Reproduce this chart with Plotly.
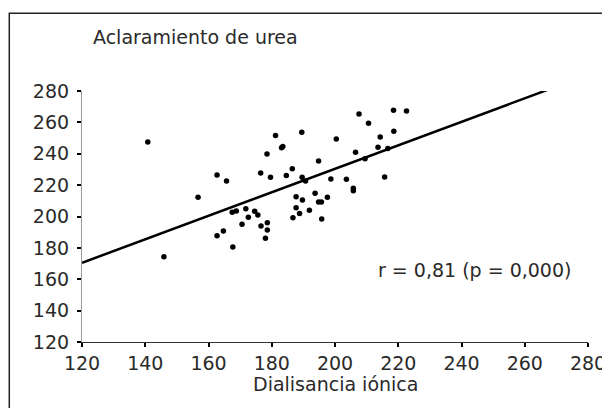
import plotly.graph_objects as go

# Data
dialisancia = [140.8, 145.9, 156.7, 162.7, 165.7, 162.7, 164.7, 167.5, 168.8, 167.7,
               171.8, 174.6, 175.6, 172.6, 170.6, 176.6, 178.6, 178.6, 178.0, 176.5,
               179.6, 178.5, 181.2, 183.1, 183.5, 184.6, 186.5, 189.5, 189.6, 190.7,
               194.8, 198.7, 200.4, 203.6, 205.8, 205.8, 187.7, 189.7, 193.7, 194.8,
               195.7, 197.6, 187.7, 191.9, 188.8, 186.7, 195.8, 206.5, 209.5, 207.6,
               210.6, 213.6, 216.7, 214.3, 218.6, 218.5, 222.6, 215.7]
aclaramiento = [247.5, 174.4, 212.2, 226.4, 222.6, 187.8, 190.7, 202.7, 203.5, 180.5,
                205.0, 203.3, 200.9, 199.5, 195.0, 193.9, 196.0, 191.4, 186.1, 227.7,
                225.0, 239.8, 251.7, 243.8, 244.7, 226.2, 230.5, 253.7, 225.0, 222.6,
                235.4, 223.9, 249.4, 223.7, 218.0, 216.4, 212.6, 210.5, 214.8, 209.2,
                209.2, 212.2, 205.6, 204.0, 201.9, 199.2, 198.4, 240.9, 236.8, 265.3,
                259.4, 244.1, 243.4, 250.7, 254.3, 267.7, 267.2, 225.2]

fit_intercept = 80.6
fit_slope = 0.749
fit_x = [120, 267.6]
fit_y = [fit_intercept + fit_slope * v for v in fit_x]

tick_vals = [120, 140, 160, 180, 200, 220, 240, 260, 280]

FONT = "DejaVu Sans"
FS = 19
TXT = "#2a2a2a"

fig = go.Figure()
fig.add_trace(go.Scatter(x=dialisancia, y=aclaramiento, mode="markers",
                         marker=dict(color="black", size=5.5, symbol="circle"),
                         hoverinfo="x+y", showlegend=False))
fig.add_trace(go.Scatter(x=fit_x, y=fit_y, mode="lines",
                         line=dict(color="black", width=2.5),
                         showlegend=False, hoverinfo="skip"))

axis_common = dict(range=[120, 280], tickvals=tick_vals, showgrid=False, zeroline=False,
                   showline=True, ticks="outside", ticklen=4, tickwidth=2, tickcolor="black",
                   ticklabeloverflow="allow",
                   tickfont=dict(family=FONT, size=FS, color=TXT))

fig.update_xaxes(**axis_common, linecolor="#333", linewidth=1.2)
fig.update_yaxes(**axis_common, linecolor="#999", linewidth=1.2, ticklabelstandoff=4)

fig.update_layout(
    width=610, height=408,
    margin=dict(l=74, r=21, t=83, b=74),
    plot_bgcolor="white", paper_bgcolor="white",
    font=dict(family=FONT, color=TXT),
    shapes=[dict(type="rect", xref="paper", yref="paper",
                 x0=-0.1437, x1=1.3, y0=1.31, y1=-0.6,
                 line=dict(color="#222", width=1.5), fillcolor="rgba(0,0,0,0)", layer="below")],
    annotations=[
        dict(text="Aclaramiento de urea", xref="paper", yref="paper", x=0.0175, y=1.215,
             xanchor="left", yanchor="middle", showarrow=False,
             font=dict(family=FONT, size=FS, color=TXT)),
        dict(text="Dialisancia iónica", xref="paper", yref="paper", x=0.5, y=-0.167,
             xanchor="center", yanchor="middle", showarrow=False,
             font=dict(family=FONT, size=FS, color=TXT)),
        dict(text="r = 0,81 (p = 0,000)", xref="x", yref="y", x=213.1, y=166,
             xanchor="left", yanchor="middle", showarrow=False,
             font=dict(family=FONT, size=FS, color=TXT)),
    ],
)

fig.write_html("out.html")
